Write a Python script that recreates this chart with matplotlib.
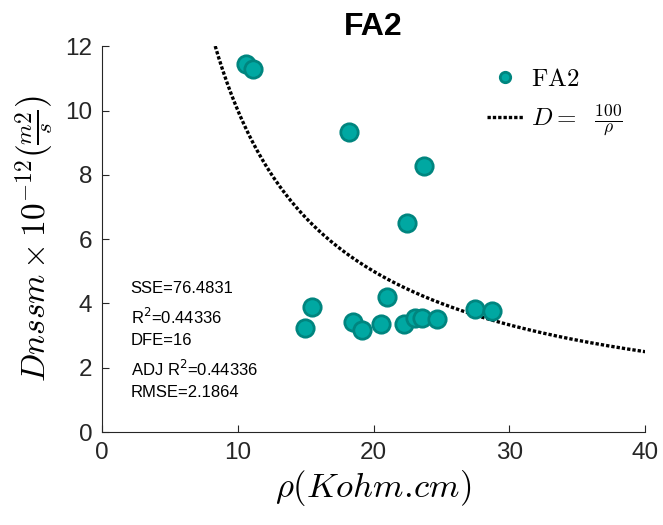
import numpy as np
import matplotlib
matplotlib.use('Agg')
import matplotlib.pyplot as plt

# ── Data ──────────────────────────────────────────────────────────────────────
rho = [10.58, 11.10, 18.18, 23.68, 22.47, 20.97, 15.47, 14.97, 18.47,
       19.18, 20.58, 22.26, 23.05, 23.60, 24.68, 27.47, 28.71]
dnssm = [11.44, 11.28, 9.32, 8.27, 6.50, 4.20, 3.90, 3.24, 3.41,
         3.16, 3.37, 3.35, 3.54, 3.54, 3.53, 3.82, 3.78]

fit_const = 100
fit_rho_min, fit_rho_max = 8.33, 40

stats_lines = ['SSE=76.4831', 'R$^2$=0.44336', 'DFE=16',
               'ADJ R$^2$=0.44336', 'RMSE=2.1864']
stats_y = [4.48, 3.57, 2.86, 1.96, 1.24]

plt.rcParams['font.family'] = ['Liberation Sans', 'DejaVu Sans']
plt.rcParams['mathtext.fontset'] = 'cm'

fig = plt.figure(figsize=(6.63, 5.25), dpi=100)
ax = fig.add_axes([0.154, 0.177, 0.819, 0.735])

rr = np.linspace(fit_rho_min, fit_rho_max, 400)
ax.plot(rr, fit_const / rr, color='black', linestyle=(0, (1, 0.6)), lw=2.4,
        label=r'$D=\ \ \frac{100}{\rho}$', zorder=2)
ax.plot(rho, dnssm, linestyle='none', marker='o', markersize=12.5,
        markerfacecolor='#00a8a2', markeredgecolor='#00857f', markeredgewidth=2,
        label=r'$\mathrm{FA2}$', zorder=3)

for txt, yy in zip(stats_lines, stats_y):
    ax.text(2.1, yy, txt, fontsize=12, va='center', ha='left', color='black',
            math_fontfamily='dejavusans')

ax.set_xlim(0, 40)
ax.set_ylim(0, 12)
ax.set_xticks([0, 10, 20, 30, 40])
ax.set_yticks([0, 2, 4, 6, 8, 10, 12])
ax.tick_params(direction='in', length=5, labelsize=17.5, colors='#262626',
               width=0.8, pad=7)
for s in ['top', 'right']:
    ax.spines[s].set_visible(False)
for s in ['left', 'bottom']:
    ax.spines[s].set_color('#262626')
    ax.spines[s].set_linewidth(0.8)

ax.set_xlabel(r'$\rho(Kohm.\!cm)$', fontsize=25, labelpad=3)
ax.set_ylabel(r'$Dnssm \times 10^{-12}\left(\frac{m2}{s}\right)$', fontsize=24, labelpad=6)
ax.set_title('FA2', fontsize=23, fontweight='bold', pad=8)

h, l = ax.get_legend_handles_labels()
ax.legend(h[::-1], l[::-1], loc='upper right', frameon=False, fontsize=18,
          markerscale=0.6, handlelength=1.45, handletextpad=0.3,
          bbox_to_anchor=(1.0, 1.005), labelspacing=0.45)

fig.savefig('out.png', dpi=100)
